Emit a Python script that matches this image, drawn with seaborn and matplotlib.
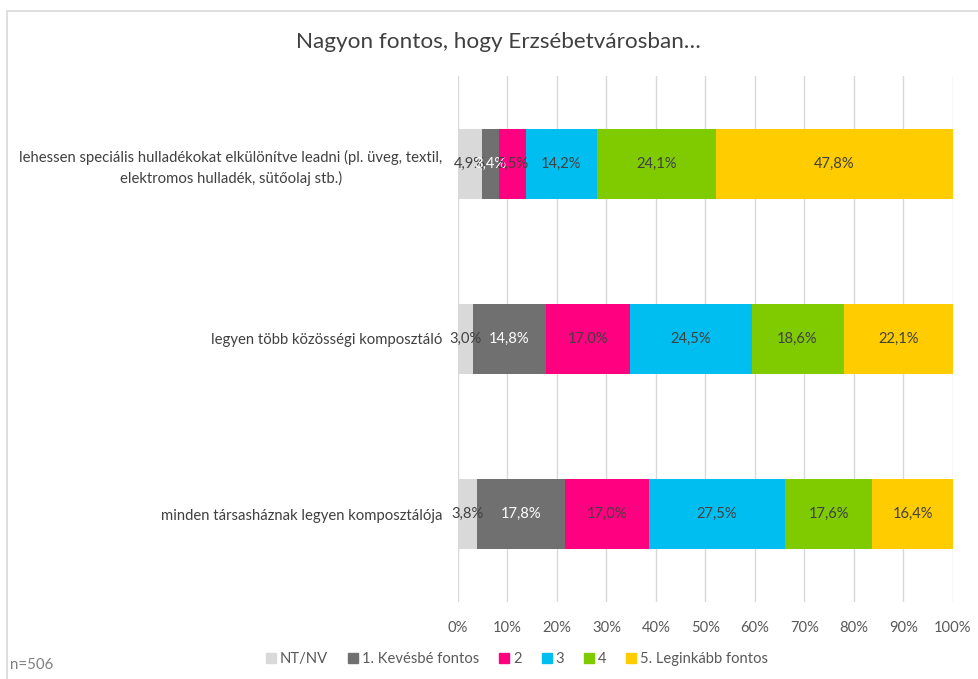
import matplotlib
matplotlib.use("Agg")
import matplotlib.pyplot as plt
import seaborn as sns
import numpy as np
import pandas as pd
from matplotlib.patches import Rectangle
from matplotlib.lines import Line2D

categories = [
    "lehessen speciális hulladékokat elkülönítve leadni (pl. üveg, textil,\nelektromos hulladék, sütőolaj stb.)",
    "legyen több közösségi komposztáló",
    "minden társasháznak legyen komposztálója",
]
series = ["NT/NV", "1. Kevésbé fontos", "2", "3", "4", "5. Leginkább fontos"]
values = {
    "NT/NV": [4.9, 3.0, 3.8],
    "1. Kevésbé fontos": [3.4, 14.8, 17.8],
    "2": [5.5, 17.0, 17.0],
    "3": [14.2, 24.5, 27.5],
    "4": [24.1, 18.6, 17.6],
    "5. Leginkább fontos": [47.8, 22.1, 16.4],
}
colors = ["#D9D9D9", "#707070", "#FF0080", "#00BFF0", "#7FCB00", "#FFCC00"]
label_colors = ["#404040", "#FFFFFF", "#404040", "#404040", "#404040", "#404040"]
xticks = [0, 10, 20, 30, 40, 50, 60, 70, 80, 90, 100]
title = "Nagyon fontos, hogy Erzsébetvárosban…"
note = "n=506"

sns.set_theme(style="white")
plt.rcParams["font.family"] = ["Lato", "DejaVu Sans"]

fig = plt.figure(figsize=(9.79, 6.79), dpi=100)
ax = fig.add_axes([458/979, 1-602/679, 495/979, 526/679])

df = pd.DataFrame(values, index=categories)
cum = df.cumsum(axis=1)

# overdraw cumulative totals, largest first
for s, c in reversed(list(zip(series, colors))):
    d = pd.DataFrame({"cat": categories, "val": cum[s].values})
    sns.barplot(data=d, x="val", y="cat", orient="h", color=c, width=0.4,
                ax=ax, saturation=1, edgecolor="none", linewidth=0, zorder=2)

for i, cat in enumerate(categories):
    for s, lc in zip(series, label_colors):
        v = df.loc[cat, s]
        center = cum.loc[cat, s] - v / 2
        ax.text(center, i, f"{v:.1f}%".replace(".", ","), ha="center", va="center",
                color=lc, fontsize=10.6, zorder=5)

ax.set_xlim(0, 100)
ax.set_ylim(2.5, -0.5)
ax.set_xticks(xticks)
ax.set_xticklabels([f"{t}%" for t in xticks], color="#595959", fontsize=10.6)
ax.tick_params(axis="x", length=0, pad=14)
ax.tick_params(axis="y", length=0, pad=11)
for lab in ax.get_yticklabels():
    lab.set_color("#404040")
    lab.set_fontsize(10.7)
    lab.set_multialignment("center")
    lab.set_linespacing(1.45)
ax.set_xlabel("")
ax.set_ylabel("")
ax.grid(axis="x", color="#D9D9D9", linewidth=1, zorder=0)
ax.set_axisbelow(True)
for sp in ax.spines.values():
    sp.set_visible(False)

fig.text(498/979, 1-42/679, title, ha="center", va="center", fontsize=16.2, color="#404040")
fig.text(10/979, 1-665/679, note, ha="left", va="center", fontsize=10.8, color="#7F7F7F")

handles = [Line2D([0], [0], marker="s", linestyle="none", markersize=6.5,
                  markerfacecolor=c, markeredgecolor=c) for c in colors]
fig.legend(handles, series, loc="center", bbox_to_anchor=(516/979, 1-659/679), ncol=6,
           frameon=False, fontsize=10.6, handletextpad=0.1, columnspacing=1.2,
           labelcolor="#595959", handlelength=1.0)

# outer chart border
fig.add_artist(Rectangle((7/979, -0.05), 1.2, 1 - 11/679 + 0.05, transform=fig.transFigure,
                         fill=False, edgecolor="#D9D9D9", linewidth=1.2))

fig.savefig("out.png", dpi=100)
